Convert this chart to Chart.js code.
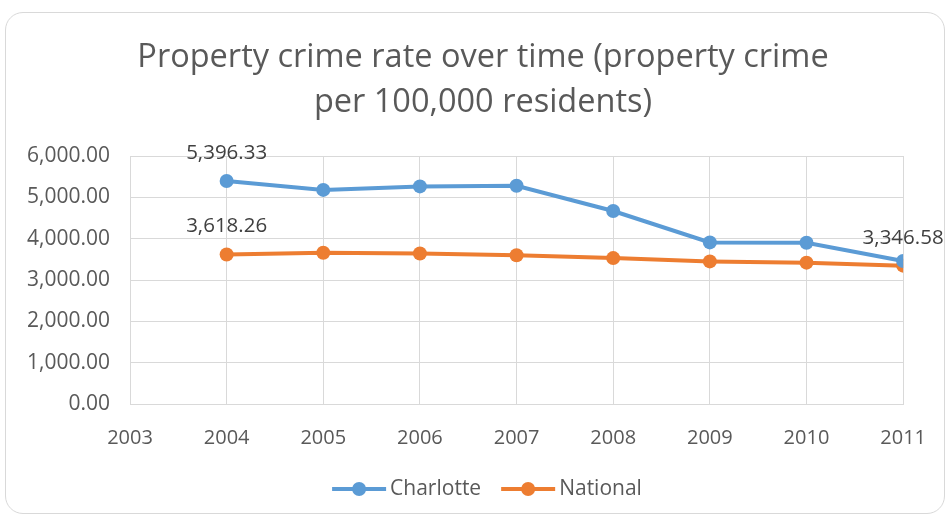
<!DOCTYPE html>
<html>
<head>
<meta charset="utf-8">
<script src="https://cdn.jsdelivr.net/npm/chart.js@4.4.0/dist/chart.umd.min.js"></script>
<style>
  html, body { margin: 0; padding: 0; background: #fff; }
  #wrap { position: relative; width: 948px; height: 519px; overflow: hidden; }
  #card { position: absolute; left: 5px; top: 12px; width: 940px; height: 502px;
          border: 1px solid #d9d9d9; border-radius: 18px; box-sizing: border-box; }
  #canva { position: absolute; left: 0; top: 0; }
</style>
</head>
<body>
<div id="wrap">
  <div id="card"></div>
  <canvas id="canva" width="948" height="519"></canvas>
</div>
<script>
const years = [2004, 2005, 2006, 2007, 2008, 2009, 2010, 2011];
const charlotte = [5396.33, 5180, 5265, 5280, 4670, 3910, 3900, 3460];
const national = [3618.26, 3660, 3640, 3600, 3530, 3450, 3420, 3346.58];
// [dataset, index] of the points that carry a value label
const labelled = [[0, 0], [1, 0], [1, 7]];
const titleLines = ["Property crime rate over time (property crime", "per 100,000 residents)"];

const blue = "#5b9bd5";
const orange = "#ed7d31";
const grey = "#595959";
const fontFam = "'Open Sans', sans-serif";

const fmt = (v) => v.toLocaleString("en-US", { minimumFractionDigits: 2, maximumFractionDigits: 2 });

const valueLabels = {
  id: "valueLabels",
  afterDatasetsDraw(chart) {
    const c = chart.ctx;
    c.save();
    c.font = "20.5px " + fontFam;
    c.fillStyle = "#404040";
    c.textAlign = "center";
    c.textBaseline = "middle";
    labelled.forEach(([d, i]) => {
      const pt = chart.getDatasetMeta(d).data[i];
      const v = chart.data.datasets[d].data[i].y;
      c.fillText(fmt(v), pt.x, pt.y - 28);
    });
    c.restore();
  },
};

// title and legend are centred on the card, not on the chart box
const cardText = {
  id: "cardText",
  afterDraw(chart) {
    const c = chart.ctx;
    c.save();
    c.font = "32.5px " + fontFam;
    c.fillStyle = grey;
    c.textAlign = "center";
    c.textBaseline = "middle";
    titleLines.forEach((t, i) => c.fillText(t, 483, 58 + i * 45));

    // legend: line + dot marker, then the series name
    c.font = "21px " + fontFam;
    c.textAlign = "left";
    const mark = 54, gapText = 4, gapItem = 20;
    const sets = chart.data.datasets;
    const widths = sets.map((ds) => mark + gapText + c.measureText(ds.label).width);
    const total = widths.reduce((a, b) => a + b, 0) + gapItem * (sets.length - 1);
    let x = 487 - total / 2;
    const y = 489;
    sets.forEach((ds, i) => {
      c.strokeStyle = ds.borderColor;
      c.fillStyle = ds.borderColor;
      c.lineWidth = 4;
      c.beginPath();
      c.moveTo(x, y);
      c.lineTo(x + mark, y);
      c.stroke();
      c.beginPath();
      c.arc(x + mark / 2, y, 7, 0, Math.PI * 2);
      c.fill();
      c.fillStyle = grey;
      c.fillText(ds.label, x + mark + gapText, y);
      x += widths[i] + gapItem;
    });
    c.restore();
  },
};

const ctx = document.getElementById("canva");
new Chart(ctx, {
  type: "line",
  data: {
    datasets: [
      {
        label: "Charlotte",
        data: years.map((y, i) => ({ x: y, y: charlotte[i] })),
        borderColor: blue,
        backgroundColor: blue,
        borderWidth: 4,
        pointRadius: 7,
        pointBorderWidth: 0,
        pointStyle: "circle",
      },
      {
        label: "National",
        data: years.map((y, i) => ({ x: y, y: national[i] })),
        borderColor: orange,
        backgroundColor: orange,
        borderWidth: 4,
        pointRadius: 7,
        pointBorderWidth: 0,
        pointStyle: "circle",
      },
    ],
  },
  options: {
    responsive: false,
    animation: false,
    layout: { padding: { top: 156, right: 41, bottom: 52, left: 0 } },
    scales: {
      x: {
        type: "linear",
        min: 2003,
        max: 2011,
        ticks: {
          stepSize: 1,
          color: grey,
          padding: 22,
          font: { family: fontFam, size: 20 },
          callback: (v) => String(v),
        },
        grid: { color: "#d9d9d9", drawTicks: false },
        border: { color: "#d9d9d9" },
        afterFit: (s) => { s.height = 63; },
      },
      y: {
        min: 0,
        max: 6000,
        ticks: {
          stepSize: 1000,
          color: grey,
          padding: 20,
          font: { family: fontFam, size: 21 },
          callback: (v) => fmt(v),
        },
        grid: { color: "#d9d9d9", drawTicks: false },
        border: { display: false },
        afterFit: (s) => { s.width = 130; },
      },
    },
    plugins: {
      title: { display: false },
      legend: { display: false },
      tooltip: { enabled: false },
    },
  },
  plugins: [valueLabels, cardText],
});
</script>
</body>
</html>
